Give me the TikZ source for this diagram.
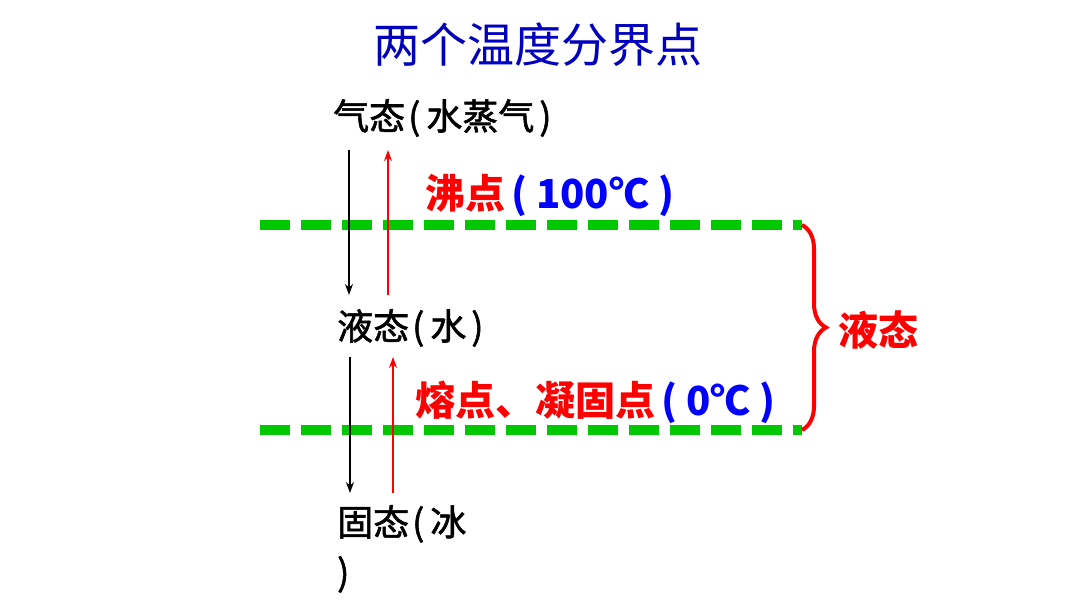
\documentclass[tikz,border=0pt]{standalone}
\usepackage{fontspec}
\setmainfont{Noto Sans CJK SC}
\newfontfamily\statefont{Noto Sans CJK SC}[FakeBold=1.6]
\usetikzlibrary{arrows.meta, decorations.pathreplacing, positioning}
\definecolor{titleblue}{RGB}{0,0,190}
\definecolor{linegreen}{RGB}{0,200,0}

\begin{document}
\begin{tikzpicture}[>=Stealth, x=1pt, y=-1pt,
  state/.style={anchor=west, inner sep=0pt, font=\statefont\fontsize{36}{50}\selectfont},
  point/.style={anchor=west, inner sep=0pt, text=red, font=\fontsize{40}{48}\selectfont\bfseries},
  bound/.style={linegreen, line width=10pt, dash pattern=on 30pt off 11pt},
  down/.style={->, line width=1.8pt, arrows={-Stealth[length=11pt, width=8pt]}},
  up/.style={down, red}]

  \useasboundingbox (0,0) rectangle (1066,600);

  % Title
  \node[text=titleblue, font=\fontsize{47}{56}\selectfont] (title) at (538,45) {两个温度分界点};

  % States
  \node[state] (gas) at (333,118) {气态\hspace{3pt}(\hspace{6pt}水蒸气\hspace{5pt})};
  \node[state] (liquid) at (337,328) {液态\hspace{3pt}(\hspace{6pt}水\hspace{5pt})};
  \node[state, anchor=north west, align=left] (solid) at (337,505) {固态\hspace{3pt}(\hspace{6pt}冰\\)};

  % Temperature points
  \node[point] (boil) at (425,195) {沸点\hspace{6pt}{\color{blue}(\hspace{9pt}100℃\hspace{9pt})}};
  \node[point] (melt) at (415,402) {熔点、凝固点\hspace{6pt}{\color{blue}(\hspace{9pt}0℃\hspace{9pt})}};

  % Boundaries
  \coordinate (b1l) at (260,225);
  \coordinate (b1r) at (802,225);
  \coordinate (b2l) at (260,430);
  \coordinate (b2r) at (802,430);
  \draw[bound] (b1l) -- (b1r);
  \draw[bound] (b2l) -- (b2r);

  % Arrows
  \coordinate (g1) at (349,150);
  \coordinate (l1) at (349,295);
  \coordinate (g2) at (388,150);
  \coordinate (l2) at (388,295);
  \coordinate (l3) at (350,357);
  \coordinate (s3) at (350,493);
  \coordinate (l4) at (393,357);
  \coordinate (s4) at (393,493);
  \draw[down] (g1) -- (l1);
  \draw[up] (l2) -- (g2);
  \draw[down] (l3) -- (s3);
  \draw[up] (s4) -- (l4);

  % Brace
  \draw[red, line width=4pt, decorate, decoration={brace, amplitude=24pt}]
    (b1r) -- (b2r);
  \node[point] (liqlabel) at (838,330) {液态};

\end{tikzpicture}
\end{document}
